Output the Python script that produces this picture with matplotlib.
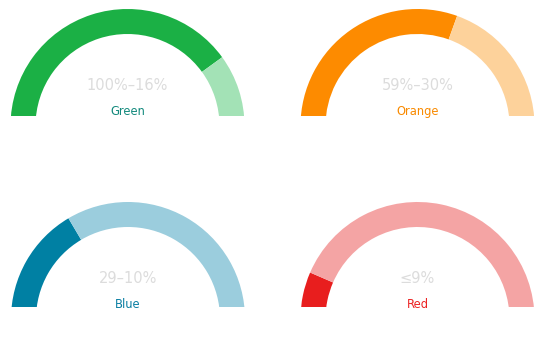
import matplotlib
matplotlib.use("Agg")
import matplotlib.pyplot as plt

# Data
categories = ["Green", "Orange", "Blue", "Red"]
ranges = ["100%–16%", "59%–30%", "29–10%", "≤9%"]
values = [80, 61, 33, 13]
dark_colors = ["#1bb045", "#fd8b00", "#0080a3", "#e81e1e"]
light_colors = ["#a3e2b6", "#fdd29b", "#9bcddd", "#f4a4a4"]
label_colors = ["#12897c", "#f98a00", "#0a7fa3", "#ec2424"]

W, H = 545, 352
fig = plt.figure(figsize=(W / 100, H / 100), dpi=100)

R = 117.0          # outer radius, px
RING = 25.0        # ring width, px
PAD = 125.0        # half-width of axes, px
# centers (px, y downwards) and baseline (clip) rows
centers = [(127.5, 126), (417.5, 126), (128, 319), (417.5, 319)]
baselines = [116, 116, 307, 307]

for i in range(4):
    cx, cy = centers[i]
    base = baselines[i]
    top = cy - PAD
    left = cx - PAD
    hpx = base - top
    ax = fig.add_axes([left / W, (H - base) / H, 2 * PAD / W, hpx / H])
    v = values[i]
    wedges, _ = ax.pie([v, 100 - v, 100], startangle=180, counterclock=False, radius=1,
                       colors=[dark_colors[i], light_colors[i], (0, 0, 0, 0)],
                       wedgeprops=dict(width=RING / R, linewidth=0))
    for w in wedges:
        w.set_clip_on(True)
        w.set_clip_path(ax.patch)
    ax.set_aspect("auto")
    ax.set_xlim(-PAD / R, PAD / R)
    ax.set_ylim((cy - base) / R, PAD / R)
    ax.axis("off")
    ax.text(0, 0.342, ranges[i], ha="center", va="center", fontsize=10.5,
            color="#dcdcdc")
    ax.text(0, 0.125, categories[i], ha="center", va="center", fontsize=8.3,
            color=label_colors[i])

fig.savefig("out.png", dpi=100)
